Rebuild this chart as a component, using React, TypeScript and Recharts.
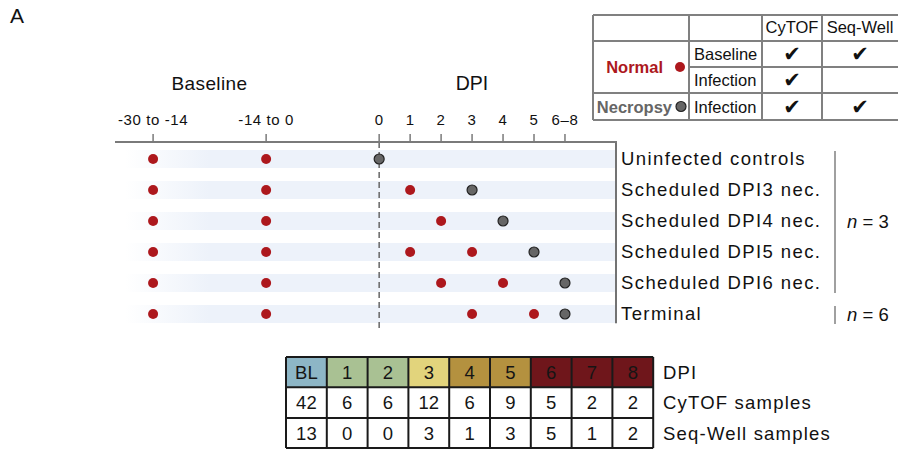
import React from 'react';
import {
  ScatterChart,
  Scatter,
  XAxis,
  YAxis,
  ReferenceArea,
  ReferenceLine,
} from 'recharts';

const FONT = '"Liberation Sans", Arial, Helvetica, sans-serif';
const RED = '#ad181d';
const GREY = '#666666';

// sampling time points; baseline windows sit on a compressed part of the axis
const timepoints = [
  { key: 'B1', label: '-30 to -14', pos: -7.3 },
  { key: 'B2', label: '-14 to 0', pos: -3.65 },
  { key: 'D0', label: '0', pos: 0 },
  { key: 'D1', label: '1', pos: 1 },
  { key: 'D2', label: '2', pos: 2 },
  { key: 'D3', label: '3', pos: 3 },
  { key: 'D4', label: '4', pos: 4 },
  { key: 'D5', label: '5', pos: 5 },
  { key: 'D6', label: '6–8', pos: 6 },
];
const X_DOMAIN: [number, number] = [-8.53, 7.68];
const Y_DOMAIN: [number, number] = [-0.548, 5.452];

const cohorts = [
  'Uninfected controls',
  'Scheduled DPI3 nec.',
  'Scheduled DPI4 nec.',
  'Scheduled DPI5 nec.',
  'Scheduled DPI6 nec.',
  'Terminal',
];

// normal (blood) draws per cohort
const normalDraws = [
  ['B1', 'B2'],
  ['B1', 'B2', 'D1'],
  ['B1', 'B2', 'D2'],
  ['B1', 'B2', 'D1', 'D3'],
  ['B1', 'B2', 'D2', 'D4'],
  ['B1', 'B2', 'D3', 'D5'],
];

// necropsy time point per cohort
const necropsyDraws = ['D0', 'D3', 'D4', 'D5', 'D6', 'D6'];

const cohortSizes = [
  { label: '3', from: 0, to: 4 },
  { label: '6', from: 5, to: 5 },
];

// sample type overview
const assayColumns = ['CyTOF', 'Seq-Well'];
const assayRows = [
  { group: 'Normal', phase: 'Baseline', cytof: true, seqwell: true },
  { group: 'Normal', phase: 'Infection', cytof: true, seqwell: false },
  { group: 'Necropsy', phase: 'Infection', cytof: true, seqwell: true },
];

// sample counts by DPI
const dpiLabels = ['BL', '1', '2', '3', '4', '5', '6', '7', '8'];
const dpiColors = ['#8db6c6', '#a9c193', '#a9c193', '#e2d47c', '#b4913f', '#b4913f', '#6f161b', '#6f161b', '#6f161b'];
const cytofSamples = [42, 6, 6, 12, 6, 9, 5, 2, 2];
const seqWellSamples = [13, 0, 0, 3, 1, 3, 5, 1, 2];

const posOf = (key: string) => timepoints.find((t) => t.key === key)!.pos;

const normalPoints = normalDraws.flatMap((keys, row) => keys.map((k) => ({ x: posOf(k), y: row })));
const necropsyPoints = necropsyDraws.map((k, row) => ({ x: posOf(k), y: row }));

const TimeTick = (props: any) => {
  const { x, y, payload } = props;
  const tp = timepoints.find((t) => t.pos === payload.value);
  return (
    <text x={x} y={y - 9} textAnchor="middle" fontSize={15} letterSpacing={0.6} fill="#111" fontFamily={FONT}>
      {tp ? tp.label : ''}
    </text>
  );
};

const CohortTick = (props: any) => {
  const { x, y, payload } = props;
  return (
    <text x={x} y={y + 6.5} textAnchor="start" fontSize={18.5} letterSpacing={1.4} fill="#111" fontFamily={FONT}>
      {cohorts[payload.value]}
    </text>
  );
};

const Dot = (fill: string, stroke?: string) => (p: any) => (
  <circle cx={p.cx} cy={p.cy} r={5} fill={fill} stroke={stroke || 'none'} strokeWidth={stroke ? 1.2 : 0} />
);

function AssayTable() {
  const colX = [593, 689, 762, 822, 900];
  const rowY = [15, 41, 67, 93, 120];
  const line = '#808080';
  const mid = (a: number, b: number) => (a + b) / 2;
  const check = (x: number, cy: number) => (
    <text x={x} y={cy + 7} textAnchor="middle" fontSize={21} fontFamily="DejaVu Sans" fill="#111">✔</text>
  );
  return (
    <g fontFamily={FONT}>
      {[0, 1, 3, 4].map((i) => (
        <line key={'h' + i} x1={colX[0]} x2={colX[4]} y1={rowY[i]} y2={rowY[i]} stroke={line} strokeWidth={2} />
      ))}
      <line x1={colX[1]} x2={colX[4]} y1={rowY[2]} y2={rowY[2]} stroke={line} strokeWidth={2} />
      {colX.slice(0, 4).map((x, i) => (
        <line key={'v' + i} x1={x} x2={x} y1={rowY[0]} y2={rowY[4]} stroke={line} strokeWidth={2} />
      ))}
      {assayColumns.map((c, i) => (
        <text key={c} x={mid(colX[i + 2], colX[i + 3]) + (i === 1 ? -1 : 0)} y={33} textAnchor="middle" fontSize={16.5} fill="#111">
          {c}
        </text>
      ))}
      {assayRows.map((r, i) => {
        const cy = mid(rowY[i + 1], rowY[i + 2]);
        return (
          <g key={i}>
            <text x={694} y={cy + 6} fontSize={16.5} fill="#111">{r.phase}</text>
            {r.cytof && check(mid(colX[2], colX[3]), cy)}
            {r.seqwell && check(mid(colX[3], 898), cy)}
          </g>
        );
      })}
      <text x={663} y={73} textAnchor="end" fontSize={16.5} fontWeight="bold" fill={RED}>{assayRows[0].group}</text>
      <circle cx={680} cy={67} r={5} fill={RED} />
      <text x={672} y={112.5} textAnchor="end" fontSize={16.5} fontWeight="bold" fill={GREY}>{assayRows[2].group}</text>
      <circle cx={681} cy={106.5} r={5} fill={GREY} stroke="#222" strokeWidth={1.2} />
    </g>
  );
}

function SampleTable() {
  const left = 286;
  const cw = 40.8;
  const rowY = [357, 387.3, 418, 448];
  const rows = [dpiLabels, cytofSamples.map(String), seqWellSamples.map(String)];
  const names = ['DPI', 'CyTOF samples', 'Seq-Well samples'];
  return (
    <g fontFamily={FONT}>
      {dpiLabels.map((_, i) => (
        <rect key={i} x={left + i * cw} y={rowY[0]} width={cw} height={rowY[1] - rowY[0]} fill={dpiColors[i]} />
      ))}
      {rowY.map((y, i) => (
        <line key={'h' + i} x1={left} x2={left + cw * 9} y1={y} y2={y} stroke="#1a1a1a" strokeWidth={2} />
      ))}
      {Array.from({ length: 10 }, (_, i) => (
        <line key={'v' + i} x1={left + i * cw} x2={left + i * cw} y1={rowY[0]} y2={rowY[3]} stroke="#1a1a1a" strokeWidth={2} />
      ))}
      {rows.map((vals, r) => (
        <g key={r}>
          {vals.map((v, i) => (
            <text key={i} x={left + i * cw + cw / 2} y={(rowY[r] + rowY[r + 1]) / 2 + 6.5} textAnchor="middle" fontSize={18.5} fill="#151515">
              {v}
            </text>
          ))}
          <text x={663} y={(rowY[r] + rowY[r + 1]) / 2 + 6.5} fontSize={18.5} letterSpacing={1.2} fill="#111">
            {names[r]}
          </text>
        </g>
      ))}
    </g>
  );
}

export default function App() {
  const rowTop = 142;
  const rowPx = 31;
  const rowCenter = (i: number) => rowTop + 17 + i * rowPx;
  return (
    <div style={{ position: 'absolute', left: 0, top: 0, width: 898, height: 450, background: '#fff', fontFamily: FONT }}>
      <div style={{ position: 'absolute', left: 0, top: 0 }}>
        <ScatterChart width={898} height={450} margin={{ top: 112, right: 279, bottom: 122, left: 115 }}>
          <XAxis
            type="number"
            dataKey="x"
            orientation="top"
            domain={X_DOMAIN}
            ticks={timepoints.map((t) => t.pos)}
            interval={0}
            height={30}
            tickSize={8}
            tickMargin={0}
            allowDataOverflow
            axisLine={{ stroke: '#7a7a7a', strokeWidth: 2 }}
            tickLine={{ stroke: '#7a7a7a', strokeWidth: 1.5 }}
            tick={<TimeTick />}
          />
          <YAxis
            type="number"
            dataKey="y"
            orientation="right"
            domain={Y_DOMAIN}
            reversed
            ticks={cohorts.map((_, i) => i)}
            interval={0}
            width={2}
            tickSize={0}
            tickMargin={4}
            tickLine={false}
            allowDataOverflow
            axisLine={false}
            tick={<CohortTick />}
          />
          {cohorts.map((c, i) => (
            <ReferenceArea key={c} x1={-8.2} x2={X_DOMAIN[1]} y1={i - 0.29} y2={i + 0.29} fill="url(#rowFade)" fillOpacity={1} stroke="none" ifOverflow="visible" />
          ))}
          {/* right frame of the timeline panel, drawn as a thin filled strip */}
          <ReferenceArea
            x1={X_DOMAIN[1] - 0.065}
            x2={X_DOMAIN[1]}
            y1={Y_DOMAIN[0]}
            y2={5.3}
            fill="#737373"
            fillOpacity={1}
            stroke="none"
            ifOverflow="visible"
          />
          <ReferenceLine x={0} stroke="#666" strokeWidth={1.5} strokeDasharray="6 4" />
          <Scatter name="Normal" data={normalPoints} shape={Dot(RED)} isAnimationActive={false} />
          <Scatter name="Necropsy" data={necropsyPoints} shape={Dot(GREY, '#222')} isAnimationActive={false} />
        </ScatterChart>
      </div>
      <svg width={898} height={450} style={{ position: 'absolute', left: 0, top: 0, pointerEvents: 'none' }}>
        <defs>
          <linearGradient id="rowFade" x1="0" x2="1" y1="0" y2="0">
            <stop offset="0" stopColor="#ffffff" />
            <stop offset="0.17" stopColor="#edf2fa" />
            <stop offset="1" stopColor="#edf2fa" />
          </linearGradient>
        </defs>
        <text x={10} y={23} fontSize={21} fontFamily={FONT} fill="#111">A</text>
        <text x={209.5} y={90} textAnchor="middle" fontSize={19} letterSpacing={0.4} fontFamily={FONT} fill="#111">Baseline</text>
        <text x={472} y={90} textAnchor="middle" fontSize={19.5} fontFamily={FONT} fill="#111">DPI</text>
        {cohortSizes.map((g) => (
          <g key={g.label}>
            <line x1={835} x2={835} y1={rowCenter(g.from) - 8} y2={rowCenter(g.to) + 10} stroke="#808080" strokeWidth={1.5} />
            <text x={847} y={(rowCenter(g.from) + rowCenter(g.to)) / 2 + 6.5} fontSize={18.5} fontFamily={FONT} fill="#111">
              <tspan fontStyle="italic">n</tspan> = {g.label}
            </text>
          </g>
        ))}
        <AssayTable />
        <SampleTable />
      </svg>
    </div>
  );
}
